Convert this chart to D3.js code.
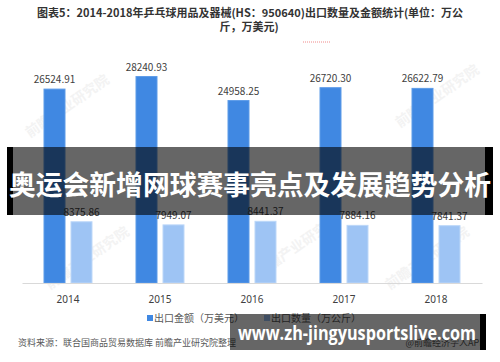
<!DOCTYPE html>
<html>
<head>
<meta charset="utf-8">
<script src="https://cdn.jsdelivr.net/npm/d3@7"></script>
<style>
  body { margin: 0; background: #fff; }
  text { font-family: "Noto Sans CJK SC", "Noto Sans", sans-serif; }
</style>
</head>
<body>
<div id="chart"></div>
<script>
// Data
var years = ["2014", "2015", "2016", "2017", "2018"];
var exportValue = [26524.91, 28240.93, 24958.25, 26720.30, 26622.79];   // 出口金额（万美元）
var exportQty = [8375.86, 7949.07, 8441.37, 7884.16, 7841.37];          // 出口数量（万公斤）
var seriesNames = ["出口金额（万美元）", "出口数量（万公斤）"];
var seriesColors = ["#4088e2", "#9ec4f4"];

var svgWidth = 500;
var svgHeight = 362;

var svg = d3.select("#chart")
  .append("svg")
  .attr("width", svgWidth)
  .attr("height", svgHeight);

// Title
svg.append("text")
  .attr("x", 250).attr("y", 17)
  .attr("text-anchor", "middle")
  .style("font-size", "11px").style("font-weight", "bold").style("fill", "#333")
  .text("图表5：2014-2018年乒乓球用品及器械(HS：950640)出口数量及金额统计(单位：万公");
svg.append("text")
  .attr("x", 249).attr("y", 31)
  .attr("text-anchor", "middle")
  .style("font-size", "11px").style("font-weight", "bold").style("fill", "#333")
  .text("斤，万美元)");
svg.append("line")
  .attr("x1", 303).attr("x2", 331).attr("y1", 42).attr("y2", 42)
  .attr("stroke", "#f08a8a").attr("stroke-dasharray", "1,1");

// faint watermarks
var marks = [[70, 110], [440, 100], [300, 250], [90, 262], [430, 262]];
svg.selectAll(".wm")
  .data(marks)
  .enter()
  .append("text")
  .attr("transform", d => `translate(${d[0]},${d[1]}) rotate(-35)`)
  .attr("text-anchor", "middle")
  .style("font-size", "14px").style("font-weight", "bold").style("fill", "#f3f3f3")
  .text("前瞻产业研究院");

// Scales
var x0 = d3.scaleBand().domain(years).range([22, 482]);
var x1 = d3.scaleBand().domain([0, 1]).range([0, x0.bandwidth()])
  .paddingInner(0.222).paddingOuter(0.815);
var y = d3.scaleLinear().domain([0, 30000]).range([283, 63.7]);

// Bars
var groups = svg.selectAll(".year")
  .data(years)
  .enter()
  .append("g")
  .attr("transform", d => `translate(${x0(d)},0)`);

groups.each(function(d, i) {
  var g = d3.select(this);
  var vals = [exportValue[i], exportQty[i]];
  vals.forEach(function(v, s) {
    g.append("rect")
      .attr("x", x1(s))
      .attr("y", y(v))
      .attr("width", x1.bandwidth())
      .attr("height", y(0) - y(v))
      .attr("fill", seriesColors[s])
      .attr("stroke", s === 0 ? "#5d9be8" : "#bcd7f8")
      .attr("stroke-width", 1);
    g.append("text")
      .attr("x", x1(s) + x1.bandwidth() / 2)
      .attr("y", y(v) - 6)
      .attr("text-anchor", "middle")
      .style("font-size", "10px").style("fill", "#404040")
      .text(v.toFixed(2));
  });
});

// x axis
var xAxis = svg.append("g")
  .attr("transform", "translate(0,283)")
  .call(d3.axisBottom(x0).tickSize(0).tickPadding(13));
xAxis.select(".domain").attr("stroke", "#d9d9d9");
xAxis.selectAll("text")
  .style("font-size", "10px").style("fill", "#404040")
  .style("font-family", "'Noto Sans', sans-serif");

// Legend
var legendX = [147, 264];
seriesNames.forEach(function(name, s) {
  svg.append("rect")
    .attr("x", legendX[s]).attr("y", 315).attr("width", 6).attr("height", 6)
    .attr("fill", seriesColors[s]);
  svg.append("text")
    .attr("x", legendX[s] + 7).attr("y", 322)
    .style("font-size", "10px").style("fill", "#595959")
    .text(name);
});

// Source
svg.append("text")
  .attr("x", 18).attr("y", 346)
  .style("font-size", "9px").style("fill", "#595959")
  .text("资料来源：联合国商品贸易数据库 前瞻产业研究院整理");
svg.append("text")
  .attr("x", 485).attr("y", 346)
  .attr("text-anchor", "end")
  .style("font-size", "9px").style("fill", "#595959")
  .text("@前瞻经济学人APP");

// Overlay banner across the chart
svg.append("rect")
  .attr("x", 7).attr("y", 147).attr("width", 486).attr("height", 68)
  .attr("fill", "rgba(0,0,0,0.6)");
svg.append("rect").attr("x", 7).attr("y", 147).attr("width", 6).attr("height", 68).attr("fill", "#000");
svg.append("rect").attr("x", 485).attr("y", 147).attr("width", 8).attr("height", 68).attr("fill", "#000");
svg.append("text")
  .attr("x", 250).attr("y", 195)
  .attr("text-anchor", "middle")
  .attr("textLength", 482)
  .attr("lengthAdjust", "spacingAndGlyphs")
  .style("font-size", "27px").style("font-weight", "bold").style("fill", "#fff")
  .text("奥运会新增网球赛事亮点及发展趋势分析");

// Bottom url banner
svg.append("rect")
  .attr("x", 230).attr("y", 314).attr("width", 256).attr("height", 36)
  .attr("fill", "rgba(0,0,0,0.6)");
svg.append("rect").attr("x", 480).attr("y", 314).attr("width", 6).attr("height", 36).attr("fill", "#000");
svg.append("text")
  .attr("x", 357).attr("y", 340)
  .attr("text-anchor", "middle")
  .attr("textLength", 238)
  .attr("lengthAdjust", "spacingAndGlyphs")
  .style("font-size", "20px").style("font-weight", "bold").style("fill", "#fff")
  .style("font-family", "'Open Sans', 'DejaVu Sans', sans-serif")
  .text("www.zh-jingyusportslive.com");
</script>
</body>
</html>
